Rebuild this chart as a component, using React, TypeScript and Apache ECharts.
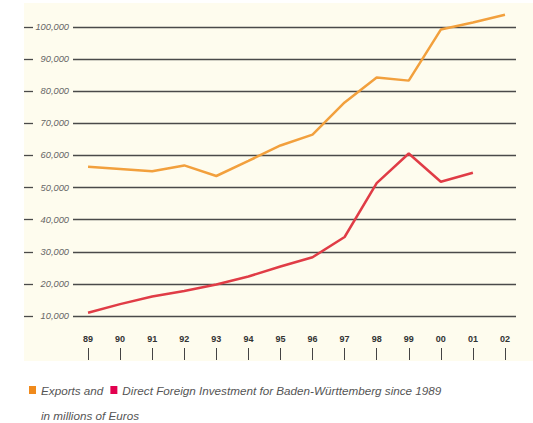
import React, { useEffect, useRef } from "react";
import * as echarts from "echarts";

const years = ["89", "90", "91", "92", "93", "94", "95", "96", "97", "98", "99", "00", "01", "02"];
const exportsValues = [56500, 55800, 55100, 56900, 53600, 58300, 63100, 66500, 76500, 84300, 83300, 99200, 101400, 103800];
const dfiValues = [11000, 13700, 16100, 17800, 19800, 22300, 25400, 28300, 34600, 51400, 60600, 51800, 54600, null];
const yTicksMin = 10000;
const yTicksMax = 100000;
const yTickStep = 10000;
const exportsName = "Exports and";
const dfiName = "Direct Foreign Investment for Baden-Württemberg since 1989";
const subtitle = "in millions of Euros";

const FONT = "'Liberation Sans', Arial, sans-serif";

export default function App() {
  const ref = useRef<HTMLDivElement>(null);
  useEffect(() => {
    if (!ref.current) return;
    const chart = echarts.init(ref.current, null, { renderer: "svg" });
    const fmt = (v: number) => v.toLocaleString("en-US");
    chart.setOption({
      animation: false,
      backgroundColor: "#ffffff",
      textStyle: { fontFamily: FONT },
      graphic: [
        {
          type: "rect",
          z: -100,
          shape: { x: 24, y: 3, width: 509, height: 358 },
          style: { fill: "#FEFCEE" },
          silent: true,
        },
      ],
      title: {
        text: subtitle,
        left: 36,
        top: 404,
        textStyle: { fontFamily: FONT, fontStyle: "italic", fontWeight: "normal", fontSize: 11.7, color: "#555" },
      },
      legend: {
        left: 24,
        top: 379,
        icon: "rect",
        itemWidth: 7,
        itemHeight: 8,
        itemGap: 7,
        selectedMode: false,
        textStyle: { fontFamily: FONT, fontStyle: "italic", fontSize: 11.7, color: "#555" },
        data: [
          { name: exportsName, itemStyle: { color: "#F08A1C" } },
          { name: dfiName, itemStyle: { color: "#E2004F" } },
        ],
      },
      grid: [
        { left: 72, width: 449, top: 27, bottom: 107 },
        { left: 73, right: 17, top: 27, bottom: 107 },
      ],
      xAxis: [
        {
          type: "category",
          gridIndex: 0,
          data: years,
          boundaryGap: true,
          axisLine: { show: false },
          axisTick: { show: false },
          axisLabel: { margin: 18, fontSize: 9, fontWeight: "bold", color: "#333", fontFamily: FONT },
        },
        {
          type: "category",
          gridIndex: 0,
          data: years,
          position: "bottom",
          offset: 32,
          boundaryGap: true,
          axisLine: { show: false },
          axisTick: { show: true, alignWithLabel: true, length: 12, lineStyle: { color: "#444", width: 1 } },
          axisLabel: { show: false },
        },
        {
          type: "value",
          gridIndex: 1,
          show: false,
        },
      ],
      yAxis: [
        {
          type: "value",
          gridIndex: 0,
          min: yTicksMin,
          max: yTicksMax,
          interval: yTickStep,
          show: false,
          splitLine: { show: false },
        },
        {
          type: "value",
          gridIndex: 1,
          min: yTicksMin,
          max: yTicksMax,
          interval: yTickStep,
          axisLine: { show: false },
          axisTick: { show: false },
          axisLabel: {
            margin: 4,
            fontSize: 9.3,
            fontStyle: "italic",
            color: "#666",
            fontFamily: FONT,
            formatter: fmt,
          },
          splitLine: { show: true, lineStyle: { color: "#4a4a4a", width: 1.3 } },
        },
        {
          type: "value",
          gridIndex: 1,
          min: yTicksMin,
          max: yTicksMax,
          interval: yTickStep,
          position: "left",
          offset: 40,
          axisLine: { show: false },
          axisTick: { show: true, length: 9, lineStyle: { color: "#4a4a4a", width: 1.3 } },
          axisLabel: { show: false },
          splitLine: { show: false },
        },
      ],
      series: [
        {
          name: exportsName,
          type: "line",
          xAxisIndex: 0,
          yAxisIndex: 0,
          data: exportsValues,
          symbol: "none",
          clip: false,
          lineStyle: { color: "#F2A03D", width: 2.5 },
          itemStyle: { color: "#F2A03D" },
          z: 3,
        },
        {
          name: dfiName,
          type: "line",
          xAxisIndex: 0,
          yAxisIndex: 0,
          data: dfiValues,
          symbol: "none",
          clip: false,
          lineStyle: { color: "#E03C46", width: 2.5 },
          itemStyle: { color: "#E03C46" },
          z: 3,
        },
      ],
    });
    return () => chart.dispose();
  }, []);
  return (
    <div
      ref={ref}
      style={{ position: "fixed", left: 0, top: 0, width: 533, height: 423 }}
    />
  );
}
